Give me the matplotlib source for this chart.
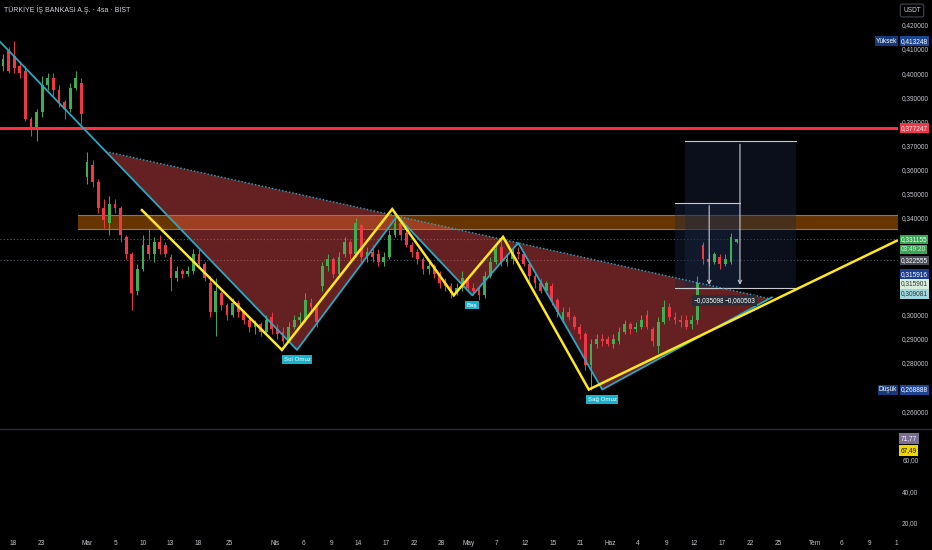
import numpy as np
import matplotlib
matplotlib.use("Agg")
import matplotlib.pyplot as plt
from matplotlib import font_manager
from matplotlib.patches import Rectangle, Polygon
from matplotlib.lines import Line2D
from matplotlib.transforms import blended_transform_factory

names = {f.name for f in font_manager.fontManager.ttflist}
FONT = "Liberation Sans Narrow" if "Liberation Sans Narrow" in names else "Liberation Sans"
plt.rcParams["font.family"] = [FONT, "DejaVu Sans"]
FS = 5.5 if FONT.endswith("Narrow") else 4.7

# 4h candles, price x 10000
opens = [4030, 4090, 4070, 4030, 4010, 3810, 3770, 3840, 3950, 3980, 3930, 3880, 3850, 3940, 3960,
         3570, 3620, 3550, 3440, 3380, 3460, 3440, 3320, 3250, 3100, 3190, 3290, 3250, 3300, 3290,
         3240, 3150, 3180, 3170, 3180, 3250, 3210, 3130, 3010, 3090, 3040, 3000, 3050, 3010, 2980,
         2950, 2960, 2930, 2990, 2940, 2930, 2900, 2950, 2980, 2980, 3050, 3030, 3120, 3200, 3230,
         3170, 3250, 3300, 3250, 3370, 3240, 3260, 3250, 3220, 3240, 3330, 3380, 3340, 3290, 3260,
         3230, 3190, 3200, 3170, 3130, 3120, 3090, 3110, 3150, 3110, 3110, 3080, 3160, 3220, 3280,
         3220, 3230, 3260, 3250, 3210, 3160, 3130, 3100, 3120, 3060, 2980, 3010, 2990, 2950, 2920,
         2790, 2880, 2900, 2900, 2880, 2890, 2930, 2960, 2940, 2950, 3000, 2940, 2870, 2970, 3030,
         2990, 2980, 2980, 2960, 2980, 3290, 3230, 3220, 3240, 3210, 3220, 3300]
closes = [4060, 4010, 4020, 4000, 3810, 3770, 3840, 3950, 3980, 3930, 3880, 3850, 3940, 3980, 3830,
          3630, 3550, 3440, 3390, 3460, 3440, 3330, 3250, 3090, 3190, 3290, 3250, 3300, 3270, 3250,
          3150, 3180, 3170, 3180, 3250, 3210, 3150, 3010, 3100, 3040, 3000, 3050, 3010, 2980, 2950,
          2960, 2930, 2980, 2940, 2920, 2890, 2950, 2980, 2990, 3060, 3030, 2970, 3200, 3230, 3170,
          3240, 3300, 3250, 3380, 3240, 3260, 3240, 3220, 3240, 3330, 3380, 3330, 3290, 3260, 3230,
          3190, 3200, 3170, 3130, 3120, 3090, 3110, 3150, 3110, 3100, 3080, 3160, 3220, 3270, 3220,
          3230, 3260, 3250, 3210, 3160, 3130, 3100, 3130, 3060, 3010, 3010, 2990, 2950, 2920, 2790,
          2880, 2900, 2890, 2880, 2900, 2930, 2960, 2940, 2950, 2980, 2950, 2890, 2970, 3030, 2990,
          2980, 2970, 2950, 2980, 3130, 3230, 3220, 3250, 3210, 3230, 3320, 3311.55]
highs = [4080, 4110, 4132.48, 4050, 4030, 3820, 3850, 3990, 4000, 4000, 3950, 3890, 3960, 4010, 3980,
         3675, 3640, 3560, 3480, 3490, 3480, 3450, 3330, 3260, 3210, 3330, 3360, 3320, 3330, 3300,
         3250, 3200, 3190, 3200, 3270, 3270, 3220, 3160, 3150, 3100, 3050, 3070, 3060, 3020, 2990,
         2980, 2970, 3000, 3010, 2960, 2950, 2970, 3000, 3010, 3090, 3070, 3040, 3220, 3250, 3240,
         3260, 3320, 3310, 3400, 3380, 3280, 3290, 3270, 3260, 3350, 3410, 3400, 3360, 3300, 3270,
         3240, 3220, 3210, 3180, 3150, 3130, 3130, 3180, 3160, 3130, 3120, 3180, 3240, 3290, 3310,
         3250, 3270, 3280, 3260, 3220, 3170, 3150, 3140, 3130, 3070, 3030, 3030, 3000, 2960, 2930,
         2900, 2920, 2920, 2910, 2920, 2950, 2980, 2970, 2970, 3000, 3020, 2950, 2990, 3060, 3050,
         3010, 3000, 3000, 3000, 3160, 3300, 3250, 3260, 3250, 3250, 3340, 3315]
lows = [4010, 4000, 4000, 3980, 3800, 3740, 3720, 3820, 3930, 3900, 3860, 3810, 3840, 3930, 3790,
        3540, 3530, 3420, 3360, 3330, 3420, 3300, 3230, 3020, 3080, 3180, 3230, 3220, 3250, 3240,
        3100, 3140, 3150, 3160, 3170, 3200, 3140, 2990, 2910, 3020, 2980, 2990, 2990, 2960, 2930,
        2920, 2910, 2920, 2920, 2900, 2880, 2890, 2940, 2960, 2970, 3010, 2950, 3100, 3180, 3150,
        3160, 3240, 3230, 3240, 3220, 3220, 3220, 3200, 3200, 3230, 3320, 3310, 3280, 3240, 3210,
        3170, 3170, 3150, 3110, 3100, 3070, 3080, 3100, 3100, 3080, 3060, 3070, 3150, 3210, 3200,
        3200, 3210, 3230, 3200, 3140, 3110, 3090, 3090, 3040, 2990, 2970, 2980, 2940, 2900, 2770,
        2688.88, 2860, 2870, 2870, 2860, 2880, 2920, 2920, 2930, 2940, 2940, 2870, 2840, 2960, 2980,
        2960, 2950, 2940, 2940, 2960, 3210, 3200, 3210, 3190, 3200, 3210, 3295]

# x axis labels (bar positions of the date labels)
date_labels = ["18", "23", "Mar", "5", "10", "13", "18", "25", "Nis", "6", "9", "14", "17", "22", "28",
               "May", "7", "12", "15", "21", "Haz", "4", "9", "12", "17", "22", "25", "Tem", "6", "9", "1"]
date_pos = [1.8, 6.8, 15.0, 20.0, 25.0, 29.8, 34.8, 40.4, 48.6, 53.6, 58.6, 63.4, 68.4, 73.4, 78.2,
            83.2, 88.2, 93.2, 98.2, 103.0, 108.4, 113.4, 118.4, 123.4, 128.4, 133.4, 138.4, 145.0,
            149.8, 154.8, 159.5]

# price scale ticks still visible (the rest sit under the value tags)
price_ticks = [0.26, 0.28, 0.29, 0.30, 0.34, 0.35, 0.36, 0.37, 0.38, 0.39, 0.40, 0.41, 0.42]

# head & shoulders drawing points (bar, price)
hs_x = [-0.54, 52.5, 70.4, 83.8, 92.0, 107.0, 137.3]
hs_p = [0.4130, 0.2854, 0.3408, 0.3080, 0.3297, 0.2690, 0.3072]
hs_names = {1: "Sol Omuz", 3: "Baş", 5: "Sağ Omuz"}

# yellow zigzag drawing
zz_x = [24.8, 49.8, 69.5, 80.5, 89.3, 104.6, 159.6]
zz_p = [0.3433, 0.2854, 0.3437, 0.3080, 0.3322, 0.2690, 0.3306]

resistance = 0.377247
zone_start, zone_lo, zone_hi = 13.4, 0.3355, 0.3412
last_price, prev_close = 0.331155, 0.322555
high_price, low_price = 0.413248, 0.268888
bar_time = "03:49:20"
other_tags = [0.315916, 0.315901, 0.309081]

# price range measurements
meas_base = 0.3112
meas_delta = [0.035098, 0.060503]
meas_left = [120.0, 121.8]
meas_right = [131.6, 141.6]
meas_arrow = [126.1, 131.6]

rsi_vals = [71.77, 67.49]

GREEN, RED = "#3fae52", "#f23645"
CYAN, YELLOW = "#26a9c4", "#ffe81a"
TXT = "#c3c6cd"

o = np.array(opens) / 1e4
c = np.array(closes) / 1e4
h = np.array(highs) / 1e4
l = np.array(lows) / 1e4
x = np.arange(len(o))

fig = plt.figure(figsize=(9.32, 5.5), dpi=100, facecolor="black")
ax = fig.add_axes([0, 123 / 550, 898 / 932, 427 / 550], facecolor="black")
ax2 = fig.add_axes([0, 17 / 550, 898 / 932, 103 / 550], facecolor="black")
for a in (ax, ax2):
    for s in a.spines.values():
        s.set_visible(False)
    a.set_xlim(-0.54, 159.82)

ax.set_ylim(0.2535, 0.43026)
ax.set_xticks([])
ax.set_yticks(price_ticks)
ax.set_yticklabels([f"{v:.6f}".replace(".", ",") for v in price_ticks])
ax.tick_params(axis="y", length=0, pad=3, labelsize=FS, labelcolor=TXT,
               left=False, labelleft=False, right=True, labelright=True)

# horizontal levels
ax.axhline(resistance, color="#ff2e3e", lw=2.2, zorder=6)
ax.axhline(last_price, color="#2f7a45", lw=0.8, ls=(0, (1, 2)), zorder=1)
ax.axhline(prev_close, color="#5a5d66", lw=0.8, ls=(0, (1, 2)), zorder=1)

# orange supply zone
ax.add_patch(Rectangle((zone_start, zone_lo), 159.82 - zone_start, zone_hi - zone_lo,
                       fc="#673600", ec="none", zorder=1))
for v in (zone_lo, zone_hi):
    ax.plot([zone_start, 159.82], [v, v], color="#6d7b99", lw=0.8, zorder=1.5)

# head & shoulders fills
def cross(p1, p2, p3, p4):
    (x1, y1), (x2, y2), (x3, y3), (x4, y4) = p1, p2, p3, p4
    d = (x1 - x2) * (y3 - y4) - (y1 - y2) * (x3 - x4)
    t = ((x1 - x3) * (y3 - y4) - (y1 - y3) * (x3 - x4)) / d
    return (x1 + t * (x2 - x1), y1 + t * (y2 - y1))

pts = list(zip(hs_x, hs_p))
nl = cross(pts[0], pts[1], pts[2], pts[4])
nr = cross(pts[5], pts[6], pts[2], pts[4])
for tri in ([nl, pts[1], pts[2]], [pts[2], pts[3], pts[4]], [pts[4], pts[5], nr]):
    ax.add_patch(Polygon(tri, closed=True, fc=(0.92, 0.30, 0.30, 0.43), ec="none", zorder=2))
ax.plot([nl[0], nr[0]], [nl[1], nr[1]], color=CYAN, lw=1.0, ls=(0, (1, 1.5)), zorder=7)
ax.plot(hs_x, hs_p, color=CYAN, lw=1.3, zorder=7)

# measure boxes
for i in range(2):
    top = meas_base + meas_delta[i]
    ax.add_patch(Rectangle((meas_left[i], meas_base), meas_right[i] - meas_left[i], meas_delta[i],
                           fc="#1a2744", alpha=0.4, ec="none", zorder=2.5))
    ax.plot([meas_left[i], meas_right[i]], [top, top], color="#c8cad0", lw=0.8, zorder=6)
    ax.plot([meas_left[i], meas_right[i]], [meas_base, meas_base], color="#c8cad0", lw=0.8, zorder=6)
    ax.annotate("", xy=(meas_arrow[i], meas_base), xytext=(meas_arrow[i], top),
                arrowprops=dict(arrowstyle="->", color="#c8cad0", lw=0.8, mutation_scale=6),
                zorder=6)

# candles
up = c >= o
col = np.where(up, GREEN, RED)
ax.vlines(x, l, h, colors=col, lw=0.7, zorder=4)
body = np.maximum(np.abs(c - o), 0.0003)
ax.bar(x, body, bottom=np.minimum(o, c), width=0.5, color=col, lw=0, zorder=5)

# yellow zigzag
ax.plot(zz_x, zz_p, color=YELLOW, lw=1.8, zorder=8, solid_joinstyle="miter")

for i in range(2):
    ax.annotate(f"\u2212{meas_delta[i]:.6f}".replace(".", ","), (meas_arrow[i], meas_base),
                xytext=(0, -9), textcoords="offset points", ha="center", va="center",
                fontsize=FS, color="white", zorder=9,
                bbox=dict(boxstyle="square,pad=0.3", fc="#2a2d35", ec="none"))

for k, name in hs_names.items():
    ax.annotate(name, (hs_x[k], hs_p[k]), xytext=(0, -7), textcoords="offset points",
                ha="center", va="center", fontsize=FS - 0.3, color="white", zorder=9,
                bbox=dict(boxstyle="square,pad=0.3", fc="#17b2cc", ec="none"))

# right scale labels
tr = blended_transform_factory(ax.transAxes, ax.transData)
PX = 1 / 2437  # price per pixel in the main pane

def tag(y, fc, txt, tc="white"):
    ax.text(1.003, y, txt, transform=tr, ha="left", va="center", fontsize=FS, color=tc,
            clip_on=False, zorder=20, bbox=dict(boxstyle="square,pad=0.18", fc=fc, ec="none"))

def fmt(v):
    return f"{v:.6f}".replace(".", ",")

tag(high_price, "#1d4590", fmt(high_price))
ax.text(0.999, high_price, "Yüksek", transform=tr, ha="right", va="center", fontsize=FS,
        color="white", zorder=20, clip_on=False,
        bbox=dict(boxstyle="square,pad=0.18", fc="#163a78", ec="none"))
tag(resistance, "#f23645", fmt(resistance))
tag(last_price, "#3aa655", fmt(last_price))
tag(last_price - 10 * PX, "#3aa655", bar_time, tc="#c9f2d2")
tag(prev_close, "#4a4d55", fmt(prev_close))
tag(prev_close - 14 * PX, "#1b3f8f", fmt(other_tags[0]))
tag(prev_close - 24 * PX, "#d8eedc", fmt(other_tags[1]), tc="#333333")
tag(prev_close - 34 * PX, "#9fd8df", fmt(other_tags[2]), tc="#333333")
tag(low_price, "#1d4590", fmt(low_price))
ax.text(0.999, low_price, "Düşük", transform=tr, ha="right", va="center", fontsize=FS,
        color="white", zorder=20, clip_on=False,
        bbox=dict(boxstyle="square,pad=0.18", fc="#163a78", ec="none"))

# RSI pane
ax2.set_ylim(13.65, 79.05)
ax2.set_yticks([20, 40, 60])
ax2.set_yticklabels(["20,00", "40,00", "60,00"])
ax2.tick_params(axis="y", length=0, pad=3, labelsize=FS, labelcolor=TXT,
                left=False, labelleft=False, right=True, labelright=True)
ax2.set_xticks(date_pos)
ax2.set_xticklabels(date_labels)
ax2.tick_params(axis="x", length=0, pad=5, labelsize=FS, labelcolor=TXT)
tr2 = blended_transform_factory(ax2.transAxes, ax2.transData)
ax2.text(1.003, 73.6, f"{rsi_vals[0]:.2f}".replace(".", ","), transform=tr2, ha="left",
         va="center", fontsize=FS, color="white", clip_on=False, zorder=20,
         bbox=dict(boxstyle="square,pad=0.25", fc="#7b6d90", ec="none"))
ax2.text(1.003, 66.0, f"{rsi_vals[1]:.2f}".replace(".", ","), transform=tr2, ha="left",
         va="center", fontsize=FS, color="#111111", clip_on=False, zorder=21,
         bbox=dict(boxstyle="square,pad=0.25", fc="#f2d600", ec="none"))

# pane separator, title, currency box
fig.add_artist(Line2D([0, 1], [121.5 / 550, 121.5 / 550], color="#2a2e39", lw=1))
fig.text(4 / 932, 1 - 9.5 / 550, "TÜRKİYE İŞ BANKASI A.Ş. · 4sa · BIST", fontsize=FS + 0.3,
         color="#d1d4dc", ha="left", va="center")
fig.text(912 / 932, 1 - 10.5 / 550, "USDT", fontsize=FS, color="#d1d4dc", ha="center", va="center",
         bbox=dict(boxstyle="round,pad=0.45,rounding_size=0.3", fc="black", ec="#434651", lw=0.8))

fig.savefig("out.png", dpi=100, facecolor="black")
